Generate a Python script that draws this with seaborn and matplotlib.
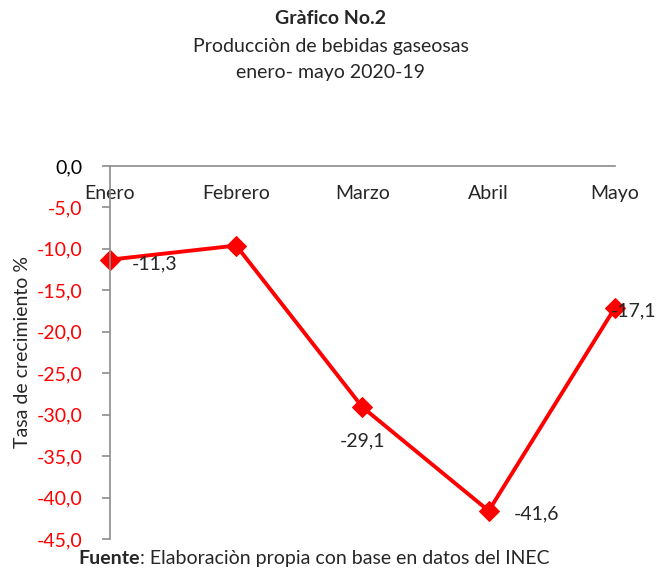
import pandas as pd
import matplotlib.pyplot as plt
import seaborn as sns

meses = ["Enero", "Febrero", "Marzo", "Abril", "Mayo"]
tasa = [-11.3, -9.6, -29.1, -41.6, -17.1]
etiquetas = ["-11,3", "", "-29,1", "-41,6", "-17,1"]
yticks = [0, -5, -10, -15, -20, -25, -30, -35, -40, -45]

df = pd.DataFrame({"mes": meses, "tasa": tasa})

sns.set_style("white")
plt.rcParams["font.family"] = ["Lato", "DejaVu Sans"]
fs = 14

fig = plt.figure(figsize=(6.57, 5.69), dpi=100)
ax = fig.add_axes([0.1674, 0.0527, 0.936 - 0.1674, 0.7083 - 0.0527])

sns.lineplot(data=df, x="mes", y="tasa", sort=False, color="#ff0000",
             linewidth=2.8, marker="D", markersize=10, markeredgecolor="#ff0000",
             ax=ax, clip_on=False)

ax.set_xlim(0, 4)
ax.set_ylim(-45, 0)
ax.set_yticks(yticks)
ax.set_yticklabels([f"{v:.1f}".replace(".", ",") for v in yticks], fontsize=fs)
for i, t in enumerate(ax.get_yticklabels()):
    t.set_color("black" if i == 0 else "#ff0000")

ax.spines["bottom"].set_position(("data", 0))
ax.spines["top"].set_visible(False)
ax.spines["right"].set_visible(False)
for s in ["bottom", "left"]:
    ax.spines[s].set_color("#8c8c8c")
    ax.spines[s].set_linewidth(1.2)

ax.set_xticks(range(len(meses)))
ax.set_xticklabels(meses, fontsize=fs)
ax.tick_params(axis="x", direction="in", length=6, width=1.2, color="#8c8c8c", pad=14)
ax.tick_params(axis="y", direction="out", length=6, width=1.2, color="#8c8c8c", pad=14, left=True)
ax.set_xlabel("")
ax.set_ylabel("Tasa de crecimiento %", fontsize=fs, labelpad=4)

offsets = [(16, -7), (0, 0), (0, -28), (18, -6), (-3, -6)]
for i, lab in enumerate(etiquetas):
    if lab:
        ax.annotate(lab, (i, tasa[i]), xytext=offsets[i], textcoords="offset points",
                    fontsize=fs, ha="left" if i != 2 else "center", va="baseline")

fig.text(0.503, 0.968, "Gràfico No.2", ha="center", va="center", fontsize=fs, fontweight="bold")
fig.text(0.503, 0.919, "Producciòn de bebidas gaseosas", ha="center", va="center", fontsize=fs)
fig.text(0.503, 0.873, "enero- mayo 2020-19", ha="center", va="center", fontsize=fs)

# pie de fuente: "Fuente" en negrita seguido del resto
renderer = fig.canvas.get_renderer()
t1 = fig.text(0.119, 0.018, "Fuente", ha="left", va="center", fontsize=fs, fontweight="bold")
bb = t1.get_window_extent(renderer=renderer)
x2 = bb.x1 / fig.bbox.width
fig.text(x2, 0.018, ": Elaboraciòn propia con base en datos del INEC",
         ha="left", va="center", fontsize=fs)

plt.savefig("out.png", dpi=100)
